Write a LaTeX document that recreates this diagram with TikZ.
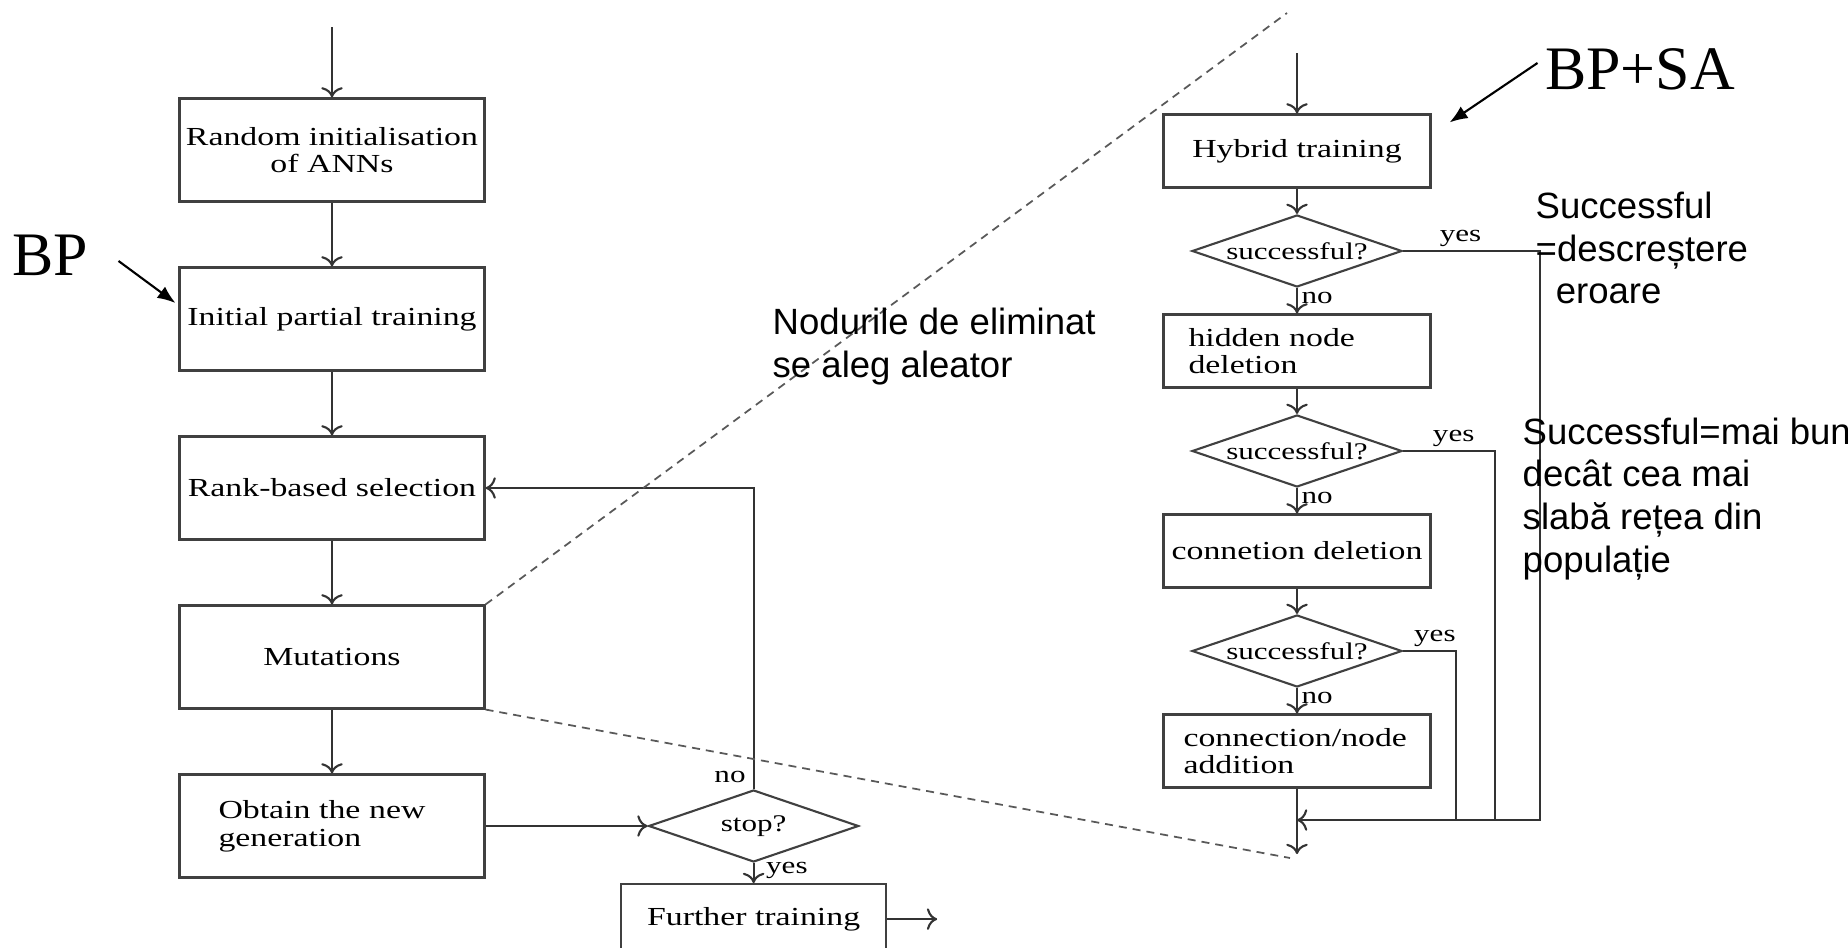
\documentclass[tikz,border=0pt]{standalone}
\usepackage{fontspec}
\setmainfont{Liberation Serif}
\newfontfamily\scanfont[FakeStretch=1.3]{Liberation Serif}
\newfontfamily\notefont{Liberation Sans}
\usetikzlibrary{arrows,arrows.meta,positioning,shapes.geometric}
\tikzset{
  stage/.style={
      rectangle,
      draw=black!75,
      line width=0.6pt,
      inner sep=0pt,
      minimum width=3.05cm,
      minimum height=1.03cm,
      align=center,
      font=\scanfont\fontsize{7.4}{7.9}\selectfont
  },
  substage/.style={
      stage,
      minimum width=2.67cm,
      minimum height=0.73cm
  },
  test/.style={
      diamond,
      draw=black!75,
      line width=0.6pt,
      inner sep=0pt,
      aspect=2.9,
      minimum width=2.1cm,
      minimum height=0.72cm,
      font=\scanfont\fontsize{6.8}{7.2}\selectfont
  },
  answer/.style={font=\scanfont\fontsize{6.8}{7.2}\selectfont, inner sep=1pt},
  wire/.style={draw=black!80, line width=0.6pt},
  flow/.style={wire, ->},
  zoomline/.style={draw=black!65, line width=0.5pt, dash pattern=on 0.8mm off 0.6mm},
  note/.style={font=\notefont\fontsize{10.4}{12.2}\selectfont, align=left, inner sep=0pt},
  method/.style={font=\fontsize{17.6}{20}\selectfont, inner sep=0pt}
}
\begin{document}
\begin{tikzpicture}
    \useasboundingbox (0,0) rectangle (18.48,-9.48);
    \clip (0,0) rectangle (18.48,-9.48);
    % left: the evolutionary loop
    \matrix[row sep={1.69cm,between origins}, matrix anchor=random.center] at (3.32,-1.50)
    {
      \node[stage] (random) {Random initialisation\\of ANNs}; \\
      \node[stage] (initial) {Initial partial training}; \\
      \node[stage] (rank) {Rank-based selection}; \\
      \node[stage] (mutations) {Mutations}; \\
      \node[stage, align=left, text width=2.27cm, inner xsep=0.39cm] (obtain) {Obtain the new\\generation}; \\
    };
    \coordinate[above=7mm of random] (lstart);
    \node[test, right=1.62cm of obtain] (stop) {stop?};
    \node[stage, minimum width=2.65cm, minimum height=0.70cm, below=2mm of stop] (further) {Further training};
    \coordinate[right=5mm of further] (lend);
    \draw[flow] (lstart) -- (random);
    \draw[flow] (random) -- (initial);
    \draw[flow] (initial) -- (rank);
    \draw[flow] (rank) -- (mutations);
    \draw[flow] (mutations) -- (obtain);
    \draw[flow] (obtain) -- (stop);
    \draw[flow] (stop.north) |- node[answer, pos=0.02, left=1pt] {no} (rank.east);
    \draw[flow] (stop) -- node[answer, right=0.8mm, pos=0.35] {yes} (further);
    \draw[flow] (further) -- (lend);
    % right: the hybrid training step, zoomed in
    \matrix[row sep={1.0cm,between origins}, matrix anchor=hybrid.center] at (12.97,-1.51)
    {
      \node[substage] (hybrid) {Hybrid training}; \\
      \node[test] (okhybrid) {successful?}; \\
      \node[substage, align=left, text width=2.17cm, inner xsep=0.25cm] (nodedel) {hidden node\\deletion}; \\
      \node[test] (oknode) {successful?}; \\
      \node[substage] (condel) {connetion deletion}; \\
      \node[test] (okcon) {successful?}; \\
      \node[substage, align=left, text width=2.27cm, inner xsep=0.2cm] (addition) {connection/node\\addition}; \\
    };
    \coordinate[above=6mm of hybrid] (rstart);
    \coordinate[below=3.15mm of addition] (merge);
    \coordinate[below=3.4mm of merge] (rend);
    \draw[flow] (rstart) -- (hybrid);
    \draw[flow] (hybrid) -- (okhybrid);
    \draw[flow] (okhybrid) -- node[answer, right, pos=0.4] {no} (nodedel);
    \draw[flow] (nodedel) -- (oknode);
    \draw[flow] (oknode) -- node[answer, right, pos=0.4] {no} (condel);
    \draw[flow] (condel) -- (okcon);
    \draw[flow] (okcon) -- node[answer, right, pos=0.4] {no} (addition);
    \draw[flow] (addition) -- (merge) -- (rend);
    \draw[flow] (okhybrid.east) -- node[answer, above, pos=0.42] {yes} ++(1.37,0) |- (merge);
    \draw[wire] (oknode.east) -- node[answer, above, pos=0.55] {yes} ++(0.92,0) |- (merge);
    \draw[wire] (okcon.east) -- node[answer, above, pos=0.6] {yes} ++(0.53,0) |- (merge);
    % zoom lines
    \coordinate (zoomtop) at (12.87,-0.13);
    \coordinate (zoombot) at (12.90,-8.58);
    \draw[zoomline] (mutations.north east) -- (zoomtop);
    \draw[zoomline] (mutations.south east) -- (zoombot);
    % labels
    \node[method] (bp) at (0.50,-2.55) {BP};
    \node[method] (bpsa) at (16.40,-0.69) {BP+SA};
    \draw[-{Latex[length=1.8mm,width=1.4mm]}, line width=0.6pt] ([shift={(3mm,-0.6mm)}]bp.east) -- ([shift={(-0.3mm,1.6mm)}]initial.west);
    \draw[-{Latex[length=1.8mm,width=1.4mm]}, line width=0.6pt] ([shift={(-0.7mm,0.6mm)}]bpsa.west) -- ([shift={(1.8mm,-0.9mm)}]hybrid.north east);
    \node[note, anchor=west] (whynodes) at (7.72,-3.465) {Nodurile de eliminat\\se aleg aleator};
    \node[note, anchor=west] (okmeaning) at (15.35,-2.48) {Successful\\=descreștere\\\hspace*{0.55em}eroare};
    \node[note, anchor=west] (okbetter) at (15.22,-4.99) {Successful=mai bun\\decât cea mai\\slabă rețea din\\populație};
\end{tikzpicture}
\end{document}
